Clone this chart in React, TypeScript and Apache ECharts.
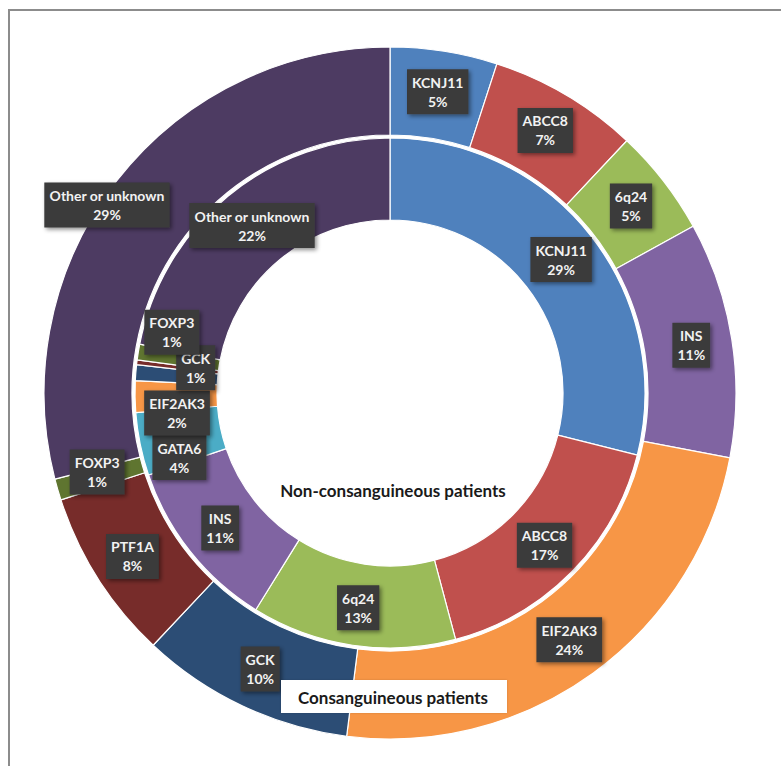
import React, { useEffect, useRef } from "react";
import * as echarts from "echarts";

// Shared categories (both rings use the same order and palette)
const categories = [
  "KCNJ11",
  "ABCC8",
  "6q24",
  "INS",
  "GATA6",
  "EIF2AK3",
  "GCK",
  "PTF1A",
  "FOXP3",
  "Other or unknown",
];

// Consanguineous patients (outer ring), %
const consanguineous = [5, 7, 5, 11, 0, 24, 10, 8, 1, 29];
// Non-consanguineous patients (inner ring), %
const nonConsanguineous = [29, 17, 13, 11, 4, 2, 1, 0.3, 1, 22];

const palette = [
  "#4F81BD",
  "#C0504D",
  "#9BBB59",
  "#8064A2",
  "#4BACC6",
  "#F79646",
  "#2C4D75",
  "#772C2A",
  "#5F7530",
  "#4D3B62",
];

const outerTitle = "Consanguineous patients";
const innerTitle = "Non-consanguineous patients";

// label nudges for crowded slices, keyed by category
const outerNudge: Record<string, [number, number]> = {
  FOXP3: [0, -6],
  "Other or unknown": [-42, -1],
};
const innerNudge: Record<string, [number, number]> = {
  GATA6: [2, 21],
  EIF2AK3: [4, 17],
  GCK: [22, -8],
  FOXP3: [-4, -26],
};

const labelStyle = {
  show: true,
  position: "inside" as const,
  formatter: "{b}\n{c}%",
  color: "#f2f2f2",
  fontFamily: "Lato",
  fontWeight: "bold" as const,
  fontSize: 14,
  lineHeight: 19,
  backgroundColor: "#3a3a3a",
  padding: [4, 5, 3, 5],
  shadowColor: "rgba(0,0,0,0.45)",
  shadowBlur: 4,
  shadowOffsetX: 2,
  shadowOffsetY: 2,
};

function buildData(values: number[], hideBelow: number) {
  return categories
    .map((name, i) => ({
      name,
      value: values[i],
      itemStyle: { color: palette[i] },
      label: { show: values[i] >= hideBelow },
    }))
    .filter((d) => d.value > 0);
}

export default function App() {
  const ref = useRef<HTMLDivElement>(null);

  useEffect(() => {
    if (!ref.current) return;
    const chart = echarts.init(ref.current, null, { renderer: "svg" });
    const outerData = buildData(consanguineous, 1);
    const innerData = buildData(nonConsanguineous, 1);

    chart.setOption({
      animation: false,
      backgroundColor: "#ffffff",
      graphic: [
        {
          type: "rect",
          z: 0,
          shape: { x: 9, y: 10, width: 820, height: 820 },
          style: { fill: "none", stroke: "#8c8c8c", lineWidth: 2 },
        },
        {
          type: "text",
          z: 10,
          x: 393,
          y: 490,
          style: {
            text: innerTitle,
            fill: "#1a1a1a",
            font: "bold 17px Lato",
            textAlign: "center",
            textVerticalAlign: "middle",
          },
        },
        {
          type: "rect",
          z: 10,
          shape: { x: 281, y: 680, width: 226, height: 33 },
          style: {
            fill: "#ffffff",
            shadowColor: "rgba(0,0,0,0.15)",
            shadowBlur: 2,
          },
        },
        {
          type: "text",
          z: 11,
          x: 393,
          y: 697,
          style: {
            text: outerTitle,
            fill: "#1a1a1a",
            font: "bold 17px Lato",
            textAlign: "center",
            textVerticalAlign: "middle",
          },
        },
      ],
      series: [
        {
          type: "pie",
          name: outerTitle,
          center: [390, 393],
          radius: [258, 346],
          startAngle: 90,
          clockwise: true,
          avoidLabelOverlap: false,
          label: labelStyle,
          labelLine: { show: false },
          itemStyle: { borderColor: "#ffffff", borderWidth: 1.2 },
          emphasis: { disabled: true },
          labelLayout: (p: any) => {
            const n = outerData[p.dataIndex]?.name;
            const d = outerNudge[n];
            return d ? { dx: d[0], dy: d[1] } : {};
          },
          data: outerData,
          z: 2,
        },
        {
          type: "pie",
          name: innerTitle,
          center: [390, 393],
          radius: [173, 255],
          startAngle: 90,
          clockwise: true,
          avoidLabelOverlap: false,
          label: labelStyle,
          labelLine: { show: false },
          itemStyle: { borderColor: "#ffffff", borderWidth: 1.2 },
          emphasis: { disabled: true },
          labelLayout: (p: any) => {
            const n = innerData[p.dataIndex]?.name;
            const d = innerNudge[n];
            return d ? { dx: d[0], dy: d[1] } : {};
          },
          data: innerData,
          z: 2,
        },
      ],
    });

    return () => chart.dispose();
  }, []);

  return (
    <div
      ref={ref}
      style={{ position: "fixed", left: 0, top: 0, width: 781, height: 766 }}
    />
  );
}
